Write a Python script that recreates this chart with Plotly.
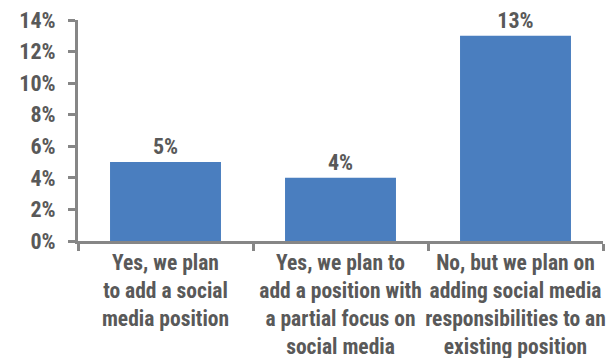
import plotly.graph_objects as go

# Survey responses and shares (percent)
categories = [
    "Yes, we plan<br>to add a social<br>media position",
    "Yes, we plan to<br>add a position with<br>a partial focus on<br>social media",
    "No, but we plan on<br>adding social media<br>responsibilities to an<br>existing position",
]
shares = [5, 4, 13]
y_ticks = [0, 2, 4, 6, 8, 10, 12, 14]

FONT = "Roboto Condensed, Liberation Sans Narrow, DejaVu Sans Condensed, Arial Narrow, sans-serif"
TEXT_GRAY = "#595959"
AXIS_GRAY = "#868686"
FS = 21.5

fig = go.Figure(
    go.Bar(
        x=categories,
        y=shares,
        marker=dict(color="#4A7EBF", line=dict(width=0)),
        text=[f"{v:.0f}%" for v in shares],
        textposition="outside",
        textfont=dict(family=FONT, size=22, color=TEXT_GRAY, weight="bold"),
        cliponaxis=False,
    )
)

fig.update_layout(
    width=615,
    height=358,
    margin=dict(l=78, r=12, t=20, b=117),
    paper_bgcolor="white",
    plot_bgcolor="white",
    bargap=0.366,
    showlegend=False,
    font=dict(family=FONT, size=FS, color=TEXT_GRAY, weight="bold"),
)

fig.update_yaxes(
    range=[0, 14],
    tickvals=y_ticks,
    ticktext=[f"{v}%" for v in y_ticks],
    showgrid=False,
    zeroline=False,
    showline=True,
    linecolor=AXIS_GRAY,
    linewidth=3,
    ticks="outside",
    ticklen=7,
    tickwidth=3,
    tickcolor=AXIS_GRAY,
    ticklabelstandoff=8,
    automargin=False,
    tickfont=dict(family=FONT, size=22, color=TEXT_GRAY, weight="bold"),
)

fig.update_xaxes(
    showgrid=False,
    showline=True,
    linecolor=AXIS_GRAY,
    linewidth=3,
    ticks="outside",
    tickson="boundaries",
    ticklen=7,
    tickwidth=3,
    tickcolor=AXIS_GRAY,
    tickangle=0,
    ticklabelstandoff=0,
    automargin=False,
    tickfont=dict(family=FONT, size=FS, color=TEXT_GRAY, weight="bold"),
)

fig.write_html("out.html")
